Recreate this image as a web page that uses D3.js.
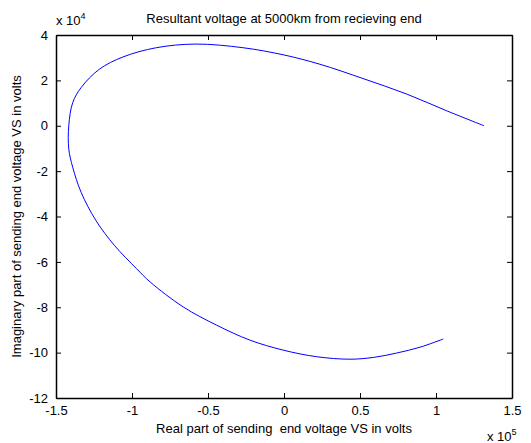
<!DOCTYPE html>
<html>
<head>
<meta charset="utf-8">
<script src="https://cdn.jsdelivr.net/npm/d3@7"></script>
<style>
  body { margin: 0; background: #fff; }
  svg text { font-family: "Liberation Sans", Arial, sans-serif; fill: #000; }
</style>
</head>
<body>
<svg id="chart" width="531" height="443"></svg>
<script>
// sending end voltage, volts
var realPart = [131600, 107000, 81000, 52000, 23700, 0, -27000, -57900, -84000, -106000,
  -121500, -133500, -139000, -141600, -141600, -139000, -133500, -123700, -111600, -97000,
  -88000, -66200, -44300, -22400, -500, 21500, 43400, 59000, 74000, 89500, 104800];
var imagPart = [0, 6600, 13900, 20800, 27100, 31200, 34400, 36000, 34400, 30300,
  24900, 16800, 10200, 0, -10200, -18300, -29300, -41800, -52700, -63000,
  -68900, -79900, -87900, -94500, -98900, -101800, -102900, -102100, -100200, -97600, -94000];
var xTicks = [-1.5, -1, -0.5, 0, 0.5, 1, 1.5];
var yTicks = [4, 2, 0, -2, -4, -6, -8, -10, -12];

var svg = d3.select("#chart");
var box = {left: 56, right: 512, top: 35, bottom: 398};

var xScale = d3.scaleLinear().domain([-150000, 150000]).range([box.left, box.right]);
var yScale = d3.scaleLinear().domain([-120000, 40000]).range([box.bottom, box.top]);

var pts = realPart.map(function(d, i){ return [d, imagPart[i]]; });

// curve
svg.append("path")
  .datum(pts)
  .attr("fill", "none")
  .attr("stroke", "#0000ff")
  .attr("stroke-width", 1)
  .attr("d", d3.line()
    .x(function(d){ return xScale(d[0]); })
    .y(function(d){ return yScale(d[1]); })
    .curve(d3.curveCatmullRom));

// axes, matlab style: ticks inside on all four sides
var xs = xTicks.map(function(t){ return t * 100000; });
var ys = yTicks.map(function(t){ return t * 10000; });

svg.append("g").attr("transform", "translate(0," + box.bottom + ")")
  .call(d3.axisBottom(xScale).tickValues(xs).tickSizeInner(-5).tickSizeOuter(0)
    .tickPadding(8).tickFormat(function(d, i){ return xTicks[i]; }));
svg.append("g").attr("transform", "translate(0," + box.top + ")")
  .call(d3.axisTop(xScale).tickValues(xs).tickSizeInner(-5).tickSizeOuter(0).tickFormat(""));
svg.append("g").attr("transform", "translate(" + box.left + ",0)")
  .call(d3.axisLeft(yScale).tickValues(ys).tickSizeInner(-5).tickSizeOuter(0)
    .tickPadding(8).tickFormat(function(d, i){ return yTicks[i]; }));
svg.append("g").attr("transform", "translate(" + box.right + ",0)")
  .call(d3.axisRight(yScale).tickValues(ys).tickSizeInner(-5).tickSizeOuter(0).tickFormat(""));

svg.selectAll(".tick text").style("font-size", "13px");
svg.selectAll(".domain").attr("stroke", "#000").attr("stroke-width", 1.5);
svg.selectAll(".tick line").attr("stroke", "#000");

// titles
svg.append("text").attr("x", 284).attr("y", 23).attr("text-anchor", "middle")
  .style("font-size", "13px").text("Resultant voltage at 5000km from recieving end");
svg.append("text").attr("x", 284).attr("y", 433).attr("text-anchor", "middle")
  .style("font-size", "13px").style("white-space", "pre")
  .text("Real part of sending  end voltage VS in volts");
svg.append("text").attr("transform", "translate(21," + ((box.top + box.bottom) / 2) + ") rotate(-90)")
  .attr("text-anchor", "middle").style("font-size", "13px")
  .text("Imaginary part of sending end voltage VS in volts");

// exponent labels
var e4 = svg.append("text").attr("x", 56).attr("y", 25).style("font-size", "13px");
e4.append("tspan").text("x 10");
e4.append("tspan").attr("dy", -6).style("font-size", "9px").text("4");
var e5 = svg.append("text").attr("x", 487).attr("y", 441).style("font-size", "13px");
e5.append("tspan").text("x 10");
e5.append("tspan").attr("dy", -6).style("font-size", "9px").text("5");
</script>
</body>
</html>
